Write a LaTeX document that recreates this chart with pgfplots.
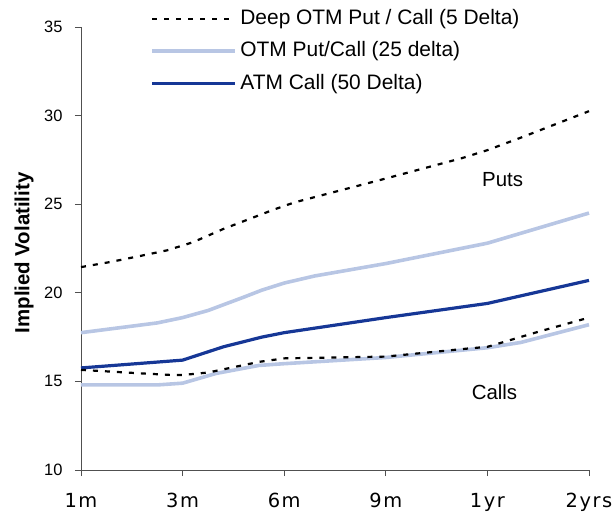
\documentclass[border=0pt]{standalone}
\usepackage{fontspec}
\setmainfont{Liberation Sans}
\newfontfamily\xfont[LetterSpace=8]{DejaVu Sans}
\usepackage{pgfplots}
\pgfplotsset{compat=1.18}

\definecolor{lightb}{RGB}{184,198,228}
\definecolor{darkb}{RGB}{22,55,150}
\definecolor{axgray}{RGB}{80,80,80}

\begin{document}
\begin{tikzpicture}
\begin{axis}[
  scale only axis, width=508bp, height=443bp,
  xmin=0, xmax=5, ymin=10, ymax=35,
  axis x line*=bottom, axis y line*=left,
  xtick={0,1,2,3,4,5}, xticklabels={1m,3m,6m,9m,1yr,2yrs},
  ytick={10,15,20,25,30,35},
  tick align=outside, major tick length=6bp,
  tick style={axgray, line width=0.8bp},
  axis line style={axgray, line width=0.8bp},
  /pgf/number format/assume math mode=true,
  xticklabel style={font=\xfont\fontsize{19.5}{20}\selectfont, yshift=-14bp},
  yticklabel style={font=\fontsize{16.5}{18}\selectfont, xshift=-9bp},
  every axis y label/.style={at={(axis description cs:-0.112,0.49)}, rotate=90, anchor=center,
     font=\bfseries\fontsize{20.5}{22}\selectfont},
  ylabel={Implied Volatility},
  clip=false,
  legend style={at={(axis description cs:0.136,1.043)}, anchor=north west, draw=none, fill=none,
     font=\fontsize{21}{24}\selectfont, row sep=11.5bp, inner sep=0pt,
     nodes={inner xsep=3.5bp, inner ysep=0pt, text height=16bp, text depth=5bp}},
  legend cell align=left,
  legend image code/.code={\draw[#1] (0bp,0bp) -- (83bp,0bp);},
]
\addplot[black, line width=2.2bp, dash pattern=on 5bp off 7bp] coordinates {
(0,21.45)(0.3,21.75)(0.6,22.1)(0.85,22.4)(1.1,22.85)(1.4,23.6)(1.65,24.15)(1.9,24.7)(2.1,25.1)(2.5,25.7)(3,26.45)(3.75,27.6)(4,28.05)(4.35,28.8)(5,30.25)};
\addlegendentry{Deep OTM Put / Call (5 Delta)}
\addplot[lightb, line width=3.6bp] coordinates {
(0,17.75)(0.75,18.3)(1,18.6)(1.25,19.0)(1.6,19.75)(1.78,20.15)(2,20.55)(2.3,20.95)(3,21.65)(4,22.8)(5,24.5)};
\addlegendentry{OTM Put/Call (25 delta)}
\addplot[darkb, line width=3.2bp] coordinates {
(0,15.76)(1,16.2)(1.4,16.95)(1.78,17.5)(2,17.75)(3,18.6)(4,19.4)(5,20.7)};
\addlegendentry{ATM Call (50 Delta)}
\addplot[lightb, line width=3.6bp, forget plot] coordinates {
(0,14.8)(0.75,14.8)(1,14.9)(1.33,15.45)(1.75,15.9)(2,16.0)(3,16.35)(4,16.9)(4.33,17.2)(5,18.2)};
\addplot[black, line width=2.2bp, dash pattern=on 5bp off 7bp, forget plot] coordinates {
(0,15.65)(0.3,15.55)(0.6,15.45)(0.9,15.36)(1,15.36)(1.25,15.5)(1.5,15.8)(1.75,16.1)(2,16.3)(3,16.4)(3.8,16.85)(4,16.95)(4.5,17.8)(5,18.6)};
\node[font=\fontsize{20.5}{22}\selectfont] at (axis cs:4.15,26.4) {Puts};
\node[font=\fontsize{20.5}{22}\selectfont] at (axis cs:4.07,14.4) {Calls};
\path (rel axis cs:0,0) ++(-81bp,-43bp) rectangle ++(616bp,513bp);
\end{axis}
\end{tikzpicture}
\end{document}
